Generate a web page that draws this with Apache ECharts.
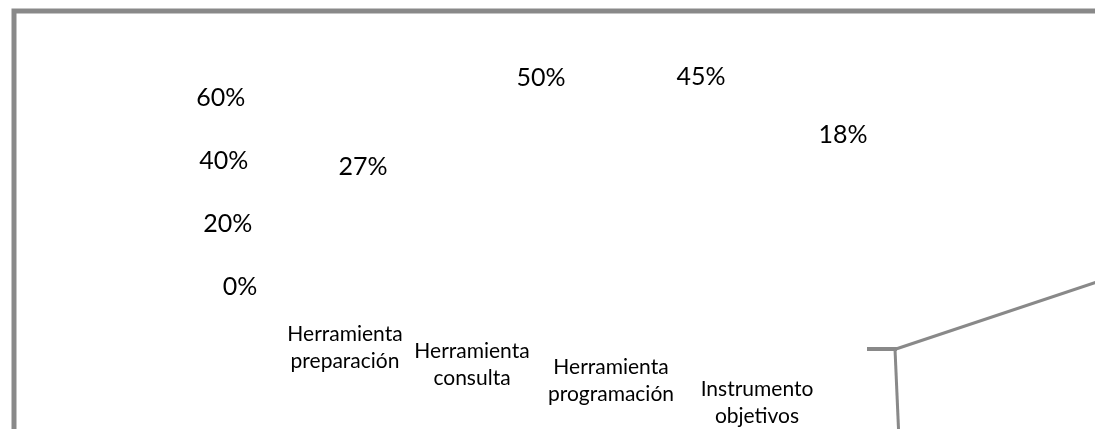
<!DOCTYPE html>
<html>
<head>
<meta charset="utf-8">
<script src="https://cdn.jsdelivr.net/npm/echarts@6/dist/echarts.min.js"></script>
<style>
html,body{margin:0;padding:0;background:#fff;}
#chart{width:1095px;height:429px;}
</style>
</head>
<body>
<div id="chart"></div>
<script>
// ---- data ----
const categories = ['Herramienta\npreparación', 'Herramienta\nconsulta', 'Herramienta\nprogramación', 'Instrumento\nobjetivos'];
const values = [27, 50, 45, 18];
const yMin = 0, yMax = 60, yInterval = 20;

// ---- styling (perspective shifts seen in the reference) ----
const valueLabelOffsets = [[23, -17.5], [63.5, -34], [86, -50], [90.5, -77]];
const catLabelShift = [[5, 0], [-5.5, 17], [-4, 33], [4.5, 55]];
const yLabelPadRight = {0: 0, 20: 5, 40: 9, 60: 12};
const FONT = 'Lato';
const frameColor = '#898989';

const xData = categories.map((c, i) => {
  const [dx, dy] = catLabelShift[i];
  return {
    value: c,
    textStyle: {padding: [dy, dx < 0 ? -2 * dx : 0, 0, dx > 0 ? 2 * dx : 0]}
  };
});

const seriesData = values.map((v, i) => ({
  value: v,
  label: {offset: valueLabelOffsets[i]}
}));

const rich = {};
Object.keys(yLabelPadRight).forEach(k => {
  rich['y' + k] = {fontFamily: FONT, fontSize: 25, color: '#000', padding: [0, yLabelPadRight[k], 0, 0]};
});

const chart = echarts.init(document.getElementById('chart'), null, {renderer: 'canvas'});
chart.setOption({
  backgroundColor: '#fff',
  animation: false,
  grid: {left: 271.25, right: 273.75, top: 97.5, bottom: 142.5, containLabel: false, outerBoundsMode: 'none'},
  xAxis: {
    type: 'category',
    data: xData,
    axisLine: {show: false},
    axisTick: {show: false},
    axisLabel: {
      interval: 0,
      margin: 34,
      fontFamily: FONT,
      fontSize: 21,
      lineHeight: 27,
      color: '#000',
      verticalAlign: 'top'
    }
  },
  yAxis: {
    type: 'value',
    min: yMin,
    max: yMax,
    interval: yInterval,
    axisLine: {show: false},
    axisTick: {show: false},
    splitLine: {show: false},
    axisLabel: {
      margin: 14,
      fontFamily: FONT,
      fontSize: 25,
      color: '#000',
      formatter: v => '{y' + v + '|' + v + '%}',
      rich: rich
    }
  },
  series: [{
    type: 'bar',
    data: seriesData,
    barWidth: '50%',
    itemStyle: {color: 'rgba(0,0,0,0)'},
    label: {
      show: true,
      position: 'top',
      fontFamily: FONT,
      fontSize: 25,
      color: '#000',
      formatter: '{c}%'
    }
  }],
  graphic: [
    {type: 'polyline', shape: {points: [[14, 440], [14, 11], [1100, 11]]}, style: {stroke: frameColor, lineWidth: 5, fill: null}},
    {type: 'line', shape: {x1: 867, y1: 349, x2: 897, y2: 349}, style: {stroke: frameColor, lineWidth: 4}},
    {type: 'line', shape: {x1: 896, y1: 349, x2: 1100, y2: 281}, style: {stroke: frameColor, lineWidth: 3}},
    {type: 'line', shape: {x1: 895, y1: 349, x2: 899, y2: 440}, style: {stroke: frameColor, lineWidth: 3}}
  ]
});
</script>
</body>
</html>
